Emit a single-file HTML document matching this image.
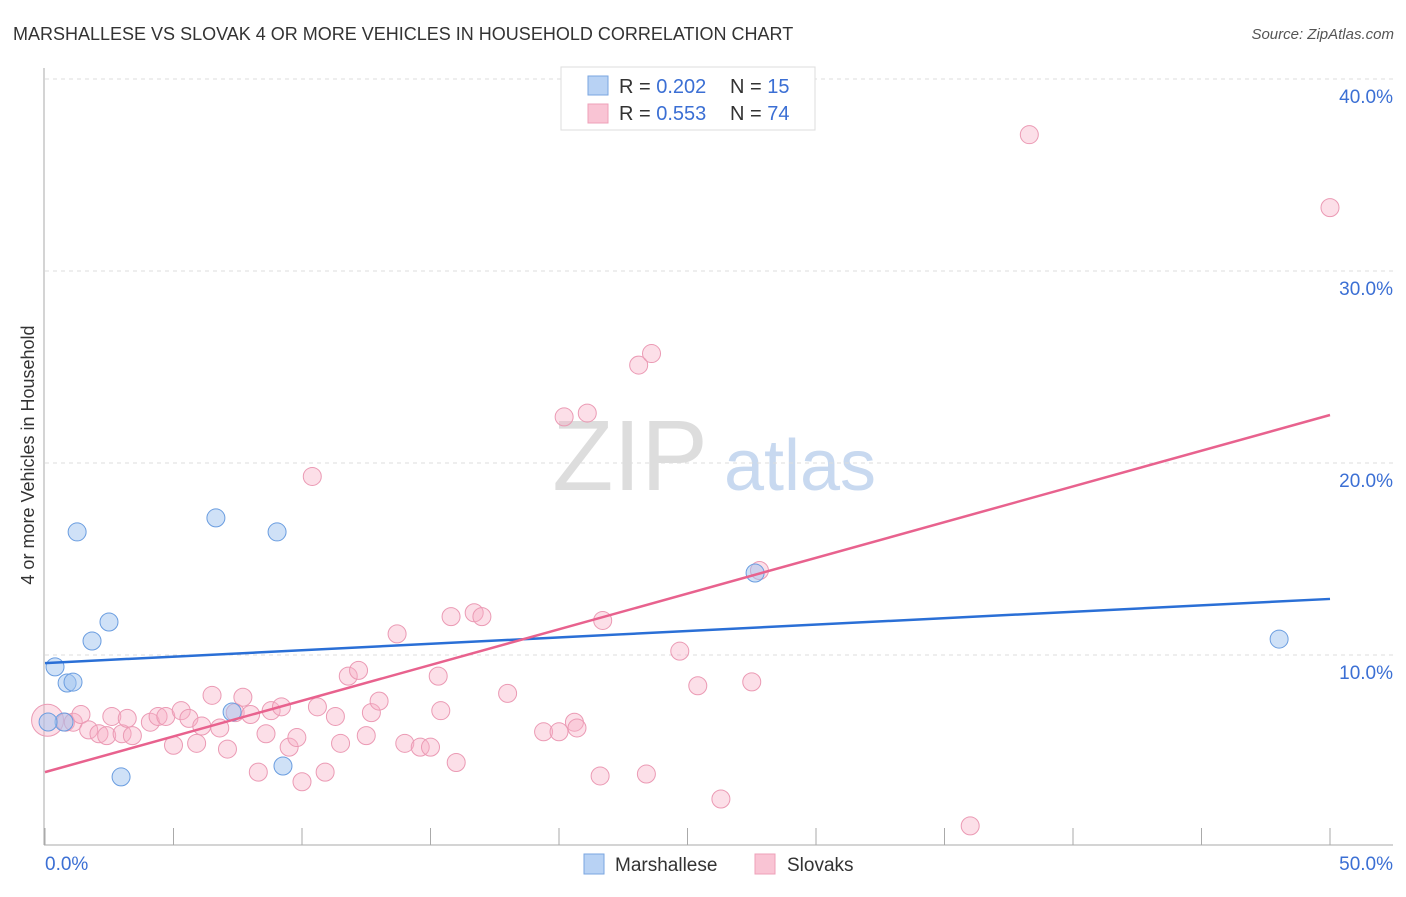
<!DOCTYPE html>
<html><head><meta charset="utf-8"><style>
body{margin:0;background:#fff;font-family:"Liberation Sans",sans-serif;}
svg text{font-family:"Liberation Sans",sans-serif;}
</style></head><body>
<svg width="1406" height="892" xmlns="http://www.w3.org/2000/svg">
<text x="13" y="40" font-size="18" fill="#333">MARSHALLESE VS SLOVAK 4 OR MORE VEHICLES IN HOUSEHOLD CORRELATION CHART</text>
<text x="1394" y="39" font-size="15" fill="#555" text-anchor="end" font-style="italic">Source: ZipAtlas.com</text>
<text x="630" y="490" font-size="100" fill="#ddd" font-family="Liberation Serif" text-anchor="middle">ZIP</text>
<text x="800" y="490" font-size="72" fill="#c8d9f0" text-anchor="middle">atlas</text>
<g id="grid"></g>
<g id="axes"></g>
<g id="marks"></g>
<text transform="translate(34,455) rotate(-90)" font-size="18" fill="#333" text-anchor="middle">4 or more Vehicles in Household</text>
<g>
<rect x="561" y="67" width="254" height="63" fill="#fff" stroke="#ddd"/>
<rect x="588" y="76" width="20" height="19" fill="#b8d2f4" stroke="#7aa6e0"/>
<rect x="588" y="104" width="20" height="19" fill="#f9c4d4" stroke="#eea0b8"/>
<text x="619" y="93" font-size="20" fill="#333">R = <tspan fill="#3b6fd4">0.202</tspan></text>
<text x="730" y="93" font-size="20" fill="#333">N = <tspan fill="#3b6fd4">15</tspan></text>
<text x="619" y="120" font-size="20" fill="#333">R = <tspan fill="#3b6fd4">0.553</tspan></text>
<text x="730" y="120" font-size="20" fill="#333">N = <tspan fill="#3b6fd4">74</tspan></text>
</g>
<g>
<rect x="584" y="854" width="20" height="20" fill="#b8d2f4" stroke="#7aa6e0"/>
<text x="615" y="871" font-size="19" fill="#333">Marshallese</text>
<rect x="755" y="854" width="20" height="20" fill="#f9c4d4" stroke="#eea0b8"/>
<text x="787" y="871" font-size="19" fill="#333">Slovaks</text>
</g>
</svg>
<script>
const yTicks=[10,20,30,40];
const yTickLabels=["10.0%","20.0%","30.0%","40.0%"];
const xTickLabels=["0.0%","50.0%"];
const blueX=[0.39,0.86,1.09,1.25,1.83,2.49,0.74,0.12,2.96,6.65,7.28,9.03,9.26,27.63,48.02];
const blueY=[9.38,8.54,8.59,16.41,10.73,11.72,6.51,6.51,3.65,17.14,7.03,16.41,4.22,14.27,10.83];
const pinkX=[0.1,0.8,1.1,1.4,1.7,2.1,2.4,2.6,3.0,3.2,3.4,4.1,4.4,4.7,5.0,5.3,5.6,5.9,6.1,6.5,6.8,7.1,7.4,7.7,8.0,8.3,8.6,8.8,9.2,9.5,9.8,10.0,10.4,10.6,10.9,11.3,11.5,11.8,12.2,12.5,12.7,13.0,13.7,14.0,14.6,15.0,15.3,15.4,15.8,16.0,16.7,17.0,18.0,19.4,20.0,20.2,20.6,20.7,21.1,21.6,21.7,23.1,23.4,23.6,24.7,25.4,26.3,27.5,27.8,36.0,38.3,50.0];
const pinkY=[6.6,6.5,6.5,6.9,6.1,5.9,5.8,6.8,5.9,6.7,5.8,6.5,6.8,6.8,5.3,7.1,6.7,5.4,6.3,7.9,6.2,5.1,7.0,7.8,6.9,3.9,5.9,7.1,7.3,5.2,5.7,3.4,19.3,7.3,3.9,6.8,5.4,8.9,9.2,5.8,7.0,7.6,11.1,5.4,5.2,5.2,8.9,7.1,12.0,4.4,12.2,12.0,8.0,6.0,6.0,22.4,6.5,6.2,22.6,3.7,11.8,25.1,3.8,25.7,10.2,8.4,2.5,8.6,14.4,1.1,37.1,33.3];
const blueTrend=[9.58,12.92];
const pinkTrend=[3.9,22.5];
const NS="http://www.w3.org/2000/svg";
const X=v=>45+v*25.7, Y=v=>847-v*19.2;
function mk(t,a,p){const e=document.createElementNS(NS,t);for(const k in a)e.setAttribute(k,a[k]);p.appendChild(e);return e;}
const grid=document.getElementById('grid'),axes=document.getElementById('axes'),marks=document.getElementById('marks');
yTicks.forEach((v,i)=>{
 const l=mk('line',{x1:45,x2:1393,y1:Y(v),y2:Y(v),stroke:'#ddd','stroke-dasharray':'4,4'},grid);
 
 
 const t=mk('text',{x:1393,y:Y(v)+24,'font-size':19,fill:'#3b6fd4','text-anchor':'end'},axes);
 t.textContent=yTickLabels[i];
 
 
});
const ya=mk('line',{x1:44,x2:44,y1:68,y2:845,stroke:'#aaa'},axes);


const xa=mk('line',{x1:44,x2:1393,y1:845,y2:845,stroke:'#aaa'},axes);


for(let v=0;v<=50;v+=5){const t=mk('line',{x1:X(v),x2:X(v),y1:828,y2:845,stroke:'#aaa'},axes);
 
 }
[[0,45,'start'],[50,1393,'end']].forEach((d,i)=>{const t=mk('text',{x:d[1],y:870,'font-size':19,fill:'#3b6fd4','text-anchor':d[2]},axes);t.textContent=xTickLabels[i];
 
 });
pinkX.forEach((x,i)=>{const c=mk('circle',{cx:X(x),cy:Y(pinkY[i]),r:i==0?16:9,fill:'rgba(248,175,198,0.4)',stroke:'#eb9ab4','stroke-width':1},marks);
 
 });
blueX.forEach((x,i)=>{const c=mk('circle',{cx:X(x),cy:Y(blueY[i]),r:9,fill:'rgba(160,196,240,0.5)',stroke:'#6a9de0','stroke-width':1},marks);
 
 });
const bl=mk('line',{x1:X(0),y1:Y(blueTrend[0]),x2:X(50),y2:Y(blueTrend[1]),stroke:'#2a6fd6','stroke-width':2.5},marks);


const pl=mk('line',{x1:X(0),y1:Y(pinkTrend[0]),x2:X(50),y2:Y(pinkTrend[1]),stroke:'#e8628e','stroke-width':2.5},marks);


</script>
</body></html>
